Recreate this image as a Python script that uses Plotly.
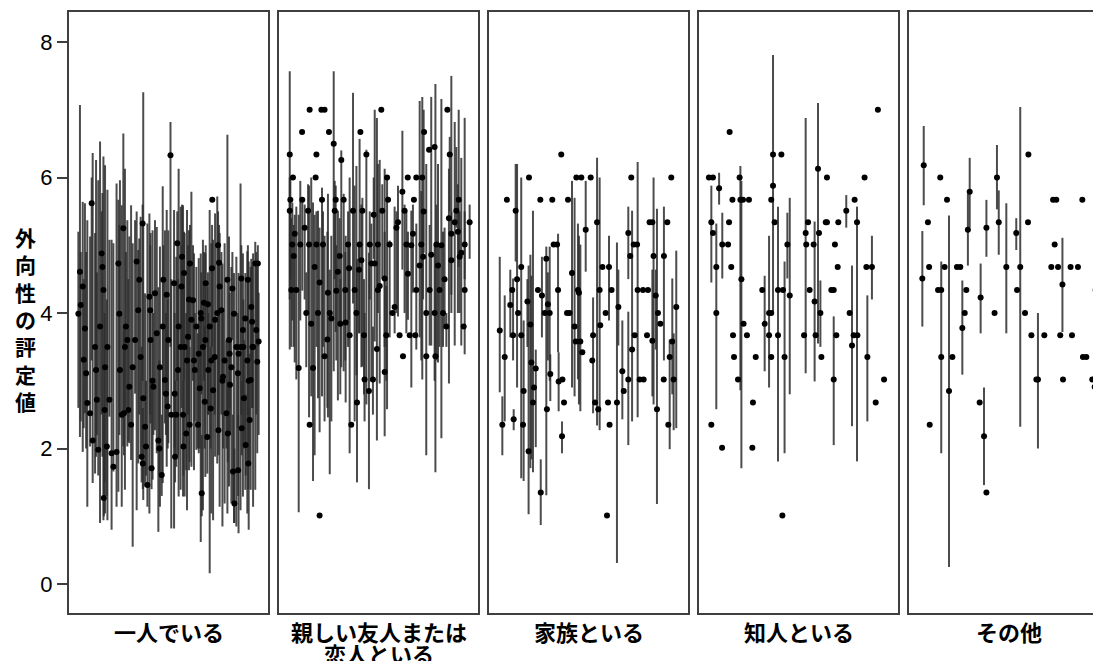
import numpy as np
import plotly.graph_objects as go

# ---------------- data (participant order position 0-100, mean, lower, upper) -------------
categories = ["一人でいる", "親しい友人または<br>恋人といる", "家族といる", "知人といる", "その他"]
y_ticks = [0, 2, 4, 6, 8]
y_title = "外向性の評定値"

p1 = [
(4.7,3.99,2.6,5.2),(5.5,4.61,2.17,7.07),(5.9,4.12,2.4,4.9),(6.9,4.39,1.95,5.64),(7.4,3.31,2.3,4.5),
(8.0,3.77,2.52,5.62),(8.6,3.11,2.0,4.9),(9.2,2.67,1.14,5.37),(10.6,2.52,2.03,5.13),(11.4,5.62,3.3,6.0),
(11.9,2.12,1.49,6.36),(13.1,3.5,1.63,5.18),(13.6,3.16,1.88,6.26),(14.0,2.72,2.2,4.6),(14.7,1.98,1.6,5.96),
(15.6,3.8,0.9,6.53),(16.4,4.88,2.5,5.5),(16.8,4.68,1.88,5.77),(17.3,4.34,0.94,6.31),(17.9,2.57,1.5,4.0),
(17.5,1.27,1.0,2.5),(18.1,3.2,1.04,6.18),(19.0,2.03,1.3,4.2),(19.3,3.5,0.94,5.82),(20.3,2.72,2.47,5.08),
(21.4,1.93,0.8,5.08),(22.3,1.73,1.66,5.03),(23.9,1.95,1.14,5.91),(24.8,4.73,1.36,5.67),(25.3,3.99,2.2,5.3),
(25.6,3.16,2.52,5.96),(26.5,2.5,1.14,5.59),(27.3,5.25,2.03,6.65),(27.6,2.52,1.9,3.8),(28.1,3.5,1.39,6.13),
(28.6,3.8,2.6,4.9),(29.3,3.6,2.03,5.37),(29.8,2.57,2.1,4.5),(30.3,2.91,2.08,5.13),(31.2,2.35,1.83,5.59),
(32.0,3.2,0.55,5.03),(33.2,3.6,2.81,5.37),(34.0,4.76,1.09,5.5),(34.8,4.04,1.78,4.93),(35.3,4.49,2.5,5.1),
(36.0,3.35,1.88,5.42),(36.5,1.88,1.5,3.5),(37.0,5.32,3.0,5.6),(37.1,1.78,1.4,2.6),(37.3,2.74,1.24,7.26),
(38.2,2.32,1.44,4.29),(38.7,2.03,1.6,3.0),(39.4,1.46,1.14,5.32),(40.4,4.24,1.04,5.47),(40.8,4.04,2.5,5.0),
(41.0,3.6,2.37,5.18),(41.5,1.71,1.4,3.0),(42.0,3.0,1.54,5.22),(42.4,2.91,2.2,4.0),(43.2,4.29,2.27,5.37),
(44.1,3.7,1.93,5.27),(44.9,2.12,0.77,4.38),(45.4,2.0,1.6,3.3),(45.7,3.2,1.14,4.98),(46.6,1.61,1.3,2.5),
(47.1,3.8,1.49,5.87),(47.4,4.49,2.8,5.0),(48.2,3.01,2.37,5.22),(48.7,2.81,2.2,4.0),(49.1,4.27,1.73,5.52),
(49.6,2.62,2.0,4.2),(49.9,3.6,2.08,5.22),(51.0,6.33,3.5,6.82),(51.4,2.5,0.82,4.5),(52.8,4.44,0.82,5.52),
(53.1,2.81,2.0,4.0),(53.3,1.88,1.5,3.0),(53.9,2.5,1.73,4.83),(54.4,5.03,3.0,5.5),(54.8,3.16,1.9,4.5),
(55.1,3.8,1.29,6.13),(56.1,3.5,1.39,5.57),(56.5,4.39,2.6,5.0),(56.8,4.83,3.5,5.6),(57.3,2.5,1.29,5.59),
(57.5,2.03,1.6,3.0),(57.8,4.59,3.0,5.2),(58.1,3.5,1.29,5.18),(58.9,2.22,1.68,4.0),(59.3,3.3,1.09,5.52),
(59.8,3.65,2.5,5.0),(60.3,4.2,1.68,5.22),(60.6,2.35,1.8,3.5),(60.8,4.73,3.6,5.3),(61.5,3.9,1.73,5.79),
(62.3,4.19,3.0,5.0),(62.8,3.3,1.68,4.88),(63.2,3.16,2.4,4.0),(64.0,3.8,1.98,4.68),(64.8,2.35,2.0,3.7),
(65.2,3.40,1.93,4.81),(65.7,2.89,2.0,4.0),(66.2,4.0,0.62,4.88),(66.5,3.92,2.8,4.6),(66.7,1.34,1.0,2.2),
(67.3,3.5,1.09,5.08),(67.8,4.15,3.0,4.9),(68.2,2.69,2.0,3.8),(68.5,3.6,1.58,4.88),(68.7,4.44,3.5,5.0),
(69.5,2.17,1.63,4.39),(69.8,4.13,2.5,4.6),(70.0,3.16,2.5,4.0),(70.7,3.8,0.16,5.52),(71.2,2.59,2.0,3.5),
(71.5,3.3,1.04,5.03),(71.9,4.66,3.5,5.3),(72.0,5.67,5.67,5.67),(72.4,2.86,0.94,5.08),(73.2,3.35,2.5,3.9),
(73.4,3.9,1.88,5.47),(74.5,4.0,1.78,5.72),(74.9,5.0,2.3,5.5),(75.1,2.27,1.9,3.0),(75.4,4.74,3.0,5.3),
(75.7,4.39,1.14,5.18),(76.6,4.04,2.5,4.9),(77.1,3.0,0.85,4.73),(77.4,3.06,2.0,4.0),(78.2,3.3,1.19,5.03),
(79.1,2.52,2.0,3.6),(79.6,4.49,1.04,6.63),(79.8,2.22,1.8,3.0),(80.4,3.6,1.44,5.13),(80.7,3.40,2.6,4.3),
(80.9,2.94,2.2,3.6),(81.6,3.2,1.19,4.68),(82.1,4.36,3.6,4.9),(82.4,1.66,1.2,2.5),(82.9,3.99,0.9,4.59),
(83.1,1.19,0.9,2.0),(84.1,3.5,0.85,4.83),(84.9,3.11,2.3,4.0),(85.0,1.68,1.3,2.5),(85.2,3.4,0.75,4.59),
(86.2,3.5,1.09,5.91),(86.6,4.51,2.5,5.0),(86.8,2.30,1.9,3.0),(87.4,3.75,1.29,4.88),(87.6,3.5,2.8,4.2),
(87.9,2.74,2.0,3.6),(88.6,3.92,1.39,4.59),(88.8,2.05,1.6,2.8),(89.6,3.3,1.04,4.91),(89.9,4.49,2.5,5.0),
(90.1,1.78,1.4,2.6),(90.3,3.0,0.80,4.76),(90.8,2.42,1.8,3.4),(91.3,3.01,1.39,4.68),(91.6,4.09,3.3,4.8),
(92.0,3.87,2.6,4.7),(92.2,3.5,2.6,4.2),(92.5,3.5,1.14,4.88),(93.6,4.73,1.39,5.05),(94.1,3.75,2.5,4.9),
(94.6,3.28,1.93,4.68),(94.9,4.73,3.5,5.0),(95.3,3.58,2.2,4.3),
]

p2 = [
(5.4,6.34,3.46,7.57),(5.7,5.67,4.5,6.0),(5.4,5.51,4.2,6.0),(6.2,4.34,3.5,5.4),(6.7,5.01,3.89,5.63),
(7.0,6.0,6.0,6.0),(7.4,4.84,3.5,5.3),(7.9,5.17,3.27,5.45),(8.7,4.34,3.02,5.57),(9.9,3.19,1.06,5.45),
(10.7,5.01,3.89,5.95),(11.6,6.67,6.67,6.67),(11.7,5.67,4.33,5.70),(12.9,5.26,4.2,5.6),(13.7,4.0,3.2,4.6),
(14.6,5.51,4.0,5.9),(15.1,5.01,2.46,5.88),(15.4,7.0,7.0,7.0),(15.4,2.35,2.35,2.35),(16.2,3.84,2.77,6.0),
(17.1,3.19,1.52,5.63),(17.9,4.68,1.90,5.45),(18.4,6.0,6.0,6.0),(18.8,6.34,6.34,6.34),(18.8,5.01,3.5,5.5),
(19.6,4.0,2.74,5.51),(20.4,1.01,1.01,1.01),(20.4,4.45,2.24,5.26),(21.3,7.0,7.0,7.0),(21.6,5.67,2.77,5.85),
(22.1,5.01,3.5,5.5),(22.9,7.0,7.0,7.0),(22.9,3.36,2.4,5.14),(24.3,3.61,2.6,5.2),(24.6,4.3,2.46,5.76),
(25.1,6.67,6.67,6.67),(25.5,4.0,1.62,4.64),(26.3,3.92,2.4,5.14),(27.5,6.5,3.14,7.57),(28.0,5.51,4.5,5.95),
(28.5,5.67,3.72,5.88),(28.8,4.33,3.3,5.0),(29.6,4.61,2.71,5.51),(30.5,4.84,3.8,5.4),(30.8,3.84,2.8,4.5),
(31.3,6.26,3.2,6.4),(32.5,5.67,3.14,5.76),(33.3,4.34,3.3,4.9),(33.5,3.86,2.68,5.14),(34.7,5.01,3.5,5.5),
(35.2,4.66,3.9,5.0),(35.5,3.67,1.93,6.0),(36.3,2.35,2.35,2.35),(37.2,5.51,4.14,7.25),(38.0,4.34,2.4,5.88),
(38.9,4.0,3.08,6.17),(39.2,2.68,1.5,4.8),(40.2,4.64,3.7,5.0),(40.5,5.01,3.7,6.57),(40.9,6.67,6.67,6.67),
(41.4,4.78,3.2,5.6),(41.9,5.51,3.21,5.70),(42.7,3.67,2.8,4.5),(43.0,3.02,2.4,4.0),(43.9,6.34,2.65,6.41),
(45.2,2.85,1.40,4.89),(45.6,5.01,4.2,5.5),(46.4,4.73,2.99,5.32),(47.2,3.02,2.5,3.8),(47.6,5.45,4.8,6.0),
(48.1,4.73,3.58,7.0),(49.2,3.47,2.12,6.88),(49.7,5.01,4.0,6.20),(49.7,4.34,4.34,4.34),(50.6,4.4,2.96,6.26),
(51.4,7.0,7.0,7.0),(51.9,5.51,4.5,5.9),(53.1,3.13,2.18,6.13),(53.1,4.51,3.5,5.2),(53.9,3.67,3.0,4.4),
(54.3,6.0,2.58,6.0),(54.8,5.67,5.67,5.67),(55.6,5.01,3.64,5.07),(57.0,4.0,4.0,4.0),(58.1,4.09,3.7,5.57),
(59.0,5.26,4.0,5.5),(59.8,5.34,3.95,5.88),(60.6,3.67,3.67,3.67),(62.0,5.79,4.64,6.69),(62.3,3.36,3.36,3.36),
(63.1,5.51,4.0,5.6),(64.0,5.01,3.7,5.51),(64.7,6.0,6.0,6.0),(64.8,4.58,3.9,5.2),(65.7,3.67,3.67,3.67),
(66.5,5.0,2.9,5.51),(67.3,5.17,4.3,5.6),(67.8,5.67,5.67,5.67),(68.5,3.67,3.67,3.67),(69.0,4.34,3.46,5.32),
(69.0,6.0,6.0,6.0),(70.7,4.7,3.64,7.13),(71.5,5.01,3.3,5.8),(72.0,6.0,3.02,7.19),(72.4,4.83,4.2,5.5),
(72.7,5.5,4.89,7.0),(72.9,6.67,6.67,6.67),(74.0,3.36,1.90,6.20),(74.0,4.0,4.0,4.0),(75.4,6.41,6.41,6.41),
(75.7,4.34,3.52,5.3),(76.5,4.86,3.52,7.19),(78.2,6.45,6.45,6.45),(78.2,4.0,3.0,5.0),(78.6,3.36,1.65,7.38),
(79.1,5.01,3.3,5.6),(79.9,4.7,3.27,6.2),(80.7,4.34,3.5,5.0),(81.6,5.0,2.15,7.16),(82.4,4.0,3.5,5.2),
(83.2,4.5,3.77,5.26),(84.1,3.8,3.5,4.0),(84.6,7.0,7.0,7.0),(85.4,5.4,2.96,6.13),(85.8,6.34,5.5,6.6),
(86.6,4.78,4.27,7.50),(86.6,5.17,4.0,5.5),(88.3,5.34,3.52,6.82),(89.1,5.51,5.26,6.45),(89.9,5.2,4.0,5.9),
(90.3,5.67,4.68,7.0),(90.8,4.83,4.0,5.5),(91.6,4.89,3.52,6.29),(92.8,3.8,3.8,3.8),(93.3,4.34,3.39,6.88),
(93.3,5.01,4.5,5.5),(95.8,5.34,4.8,5.6),
]

p3 = [
(5.4,3.74,2.83,4.83),(6.7,2.35,1.9,2.77),(7.9,3.35,2.40,4.26),(9.0,5.67,5.67,5.67),(10.7,4.12,3.64,4.64),
(11.7,4.34,4.34,4.34),(12.1,3.67,3.3,4.51),(12.4,2.43,2.27,2.58),(13.4,5.51,4.76,6.2),(14.1,4.5,2.9,6.2),
(14.6,4.0,4.0,4.0),(16.2,4.68,1.56,6.0),(16.2,3.67,3.67,3.67),(17.1,2.35,2.35,2.35),(17.4,2.85,1.52,3.89),
(19.3,4.17,3.5,4.5),(20.1,6.0,6.0,6.0),(19.9,1.96,1.03,4.7),(20.8,3.83,1.71,4.86),(21.3,3.27,1.84,4.55),
(22.1,2.68,1.65,5.51),(22.6,2.9,2.9,2.9),(23.5,3.18,2.02,3.46),(24.6,4.34,4.34,4.34),(25.8,5.67,5.67,5.67),
(26.0,1.35,0.87,1.84),(26.6,4.26,3.64,4.83),(28.0,4.0,4.0,4.0),(28.8,4.8,1.31,4.98),(29.1,2.58,2.58,2.58),
(29.6,4.13,3.3,4.6),(30.5,4.0,3.0,4.98),(30.8,3.1,2.7,3.39),(31.8,5.67,5.67,5.67),(32.5,5.01,5.01,5.01),
(34.2,5.01,5.01,5.01),(34.7,4.34,3.42,5.17),(35.0,2.99,2.55,3.42),(36.3,6.34,6.34,6.34),(36.9,3.02,3.02,3.02),
(36.7,2.18,1.93,2.40),(37.7,2.68,2.68,2.68),(39.2,4.0,4.0,4.0),(40.5,4.0,4.0,4.0),(39.7,5.67,5.67,5.67),
(41.7,4.59,2.90,5.95),(43.0,3.8,2.77,5.70),(43.9,6.0,6.0,6.0),(46.4,6.0,6.0,6.0),(43.6,3.58,3.58,3.58),
(44.7,4.34,3.02,5.32),(45.2,4.3,2.65,5.14),(45.9,3.58,2.55,5.01),(46.9,3.42,3.42,3.42),(48.6,5.23,4.61,5.95),
(51.1,6.0,6.0,6.0),(52.3,3.67,2.52,4.23),(51.9,3.3,3.3,3.3),(53.3,2.68,2.68,2.68),(54.3,5.34,2.34,6.29),
(54.9,2.58,2.58,2.58),(55.6,4.34,2.27,6.0),(55.9,3.82,3.82,3.82),(57.0,4.68,4.68,4.68),(58.6,4.0,4.0,4.0),
(59.3,1.01,1.01,1.01),(59.8,2.68,2.68,2.68),(60.3,4.68,3.89,5.14),(60.6,2.35,2.35,2.35),(61.6,4.34,4.34,4.34),
(64.3,2.68,0.31,5.04),(65.0,4.09,3.52,4.64),(67.0,3.14,2.43,3.89),(67.7,2.85,2.85,2.85),(70.0,3.02,2.05,4.02),
(70.0,5.18,4.5,5.57),(71.0,4.84,4.84,4.84),(71.5,6.0,6.0,6.0),(71.9,3.46,2.40,5.51),(72.7,5.01,5.01,5.01),
(74.4,5.01,5.01,5.01),(73.2,3.67,3.67,3.67),(74.7,4.34,2.46,6.23),(75.7,3.02,3.02,3.02),(77.7,3.02,3.02,3.02),
(77.4,4.34,4.34,4.34),(79.9,4.34,4.34,4.34),(79.4,3.67,3.67,3.67),(80.7,5.34,5.34,5.34),(82.1,5.34,5.34,5.34),
(82.1,3.59,2.77,4.64),(82.7,4.84,2.65,6.0),(83.8,4.26,3.46,4.64),(84.4,2.58,1.18,5.54),(84.9,4.0,4.0,4.0),
(86.1,3.84,3.84,3.84),(87.8,3.02,3.02,3.02),(87.9,4.84,3.3,5.57),(89.6,5.34,5.34,5.34),(90.1,2.35,2.35,2.35),
(90.8,3.35,1.99,3.61),(91.6,6.0,6.0,6.0),(92.1,3.58,2.8,4.51),(92.8,3.02,2.27,3.70),(94.1,4.09,2.3,4.92),
]

p4 = [
(5.0,6.0,6.0,6.0),(7.0,6.0,6.0,6.0),(6.2,5.34,4.45,5.88),(7.0,5.18,5.18,5.18),(8.7,4.68,2.58,5.32),
(8.7,4.0,4.0,4.0),(10.1,5.84,5.6,6.07),(6.2,2.35,2.35,2.35),(11.7,5.01,4.51,5.48),(14.6,5.01,5.01,5.01),
(11.6,2.01,2.01,2.01),(15.4,6.67,6.67,6.67),(15.1,5.34,5.34,5.34),(16.2,4.68,4.68,4.68),(16.8,5.67,5.67,5.67),
(17.1,3.67,3.67,3.67),(17.6,3.35,3.35,3.35),(19.6,3.02,3.02,3.02),(20.4,6.0,6.0,6.0),(20.8,5.67,2.86,6.17),
(22.1,5.67,5.67,5.67),(21.3,4.5,1.71,5.95),(22.4,3.84,3.84,3.84),(24.1,3.67,3.67,3.67),(25.1,5.67,5.67,5.67),
(27.1,2.68,2.68,2.68),(26.8,2.01,2.01,2.01),(28.5,3.35,3.35,3.35),(31.8,4.34,4.34,4.34),(33.0,3.84,3.14,4.55),
(35.2,4.0,2.9,5.14),(36.3,4.0,4.0,4.0),(35.2,3.67,3.67,3.67),(36.3,5.67,5.67,5.67),(37.2,6.34,4.02,7.81),
(37.2,5.88,5.88,5.88),(38.0,5.34,5.34,5.34),(36.3,3.35,3.35,3.35),(39.7,4.34,1.81,5.57),(39.7,3.67,3.67,3.67),
(41.4,6.34,6.34,6.34),(42.2,4.34,4.34,4.34),(41.9,1.01,1.01,1.01),(43.0,3.35,1.93,4.76),(44.4,5.01,4.51,5.48),
(45.6,4.26,2.80,5.70),(52.8,3.67,3.67,3.67),(53.6,5.18,3.11,6.88),(53.9,5.01,5.01,5.01),(54.8,5.34,5.34,5.34),
(55.6,4.34,4.34,4.34),(57.6,5.01,5.01,5.01),(58.1,4.17,2.99,5.35),(58.6,3.67,3.67,3.67),(59.8,6.13,3.55,7.10),
(60.3,5.18,5.18,5.18),(61.0,4.0,3.5,4.48),(61.5,3.35,3.35,3.35),(64.3,6.0,6.0,6.0),(63.7,5.34,5.34,5.34),
(64.3,5.34,5.34,5.34),(66.5,4.34,4.34,4.34),(67.7,4.34,4.34,4.34),(67.7,3.02,2.05,3.95),(68.3,5.01,5.01,5.01),
(69.0,3.67,3.67,3.67),(69.7,4.68,4.68,4.68),(70.0,5.34,5.34,5.34),(74.0,5.51,5.26,5.74),(75.7,4.0,4.0,4.0),
(76.9,3.52,2.33,4.70),(78.2,5.67,5.67,5.67),(77.7,3.67,3.67,3.67),(79.6,3.67,3.67,3.67),(79.4,5.34,1.81,5.57),
(83.2,6.0,6.0,6.0),(84.1,4.68,4.68,4.68),(84.6,3.35,2.40,4.26),(86.9,4.68,4.20,5.14),(88.8,2.68,2.68,2.68),
(89.9,7.0,7.0,7.0),(93.0,3.02,3.02,3.02),
]

p5 = [
(7.4,6.18,5.59,6.76),(6.7,4.51,3.8,5.21),(9.5,5.34,5.34,5.34),(10.1,4.68,4.68,4.68),(10.4,2.35,2.35,2.35),
(14.6,4.34,4.34,4.34),(16.2,4.34,1.93,4.76),(15.7,6.0,6.0,6.0),(16.2,3.35,3.35,3.35),(17.9,4.68,4.68,4.68),
(19.1,5.67,5.67,5.67),(20.1,2.85,0.25,5.44),(21.8,3.35,3.35,3.35),(24.1,4.68,4.68,4.68),(25.8,4.68,4.68,4.68),
(26.8,3.78,3.09,4.48),(28.0,4.0,4.0,4.0),(28.8,4.34,4.34,4.34),(29.6,5.23,4.70,5.76),(30.5,5.79,5.26,6.29),
(35.5,2.68,2.68,2.68),(36.0,4.23,3.70,4.73),(37.7,2.18,1.46,2.90),(38.9,1.35,1.35,1.35),(38.9,5.26,4.83,5.67),
(43.0,4.0,4.0,4.0),(44.2,6.0,5.53,6.48),(45.1,5.34,4.86,5.81),(48.9,4.68,3.70,5.62),(53.9,5.18,4.93,5.40),
(54.3,4.34,4.34,4.34),(55.9,4.68,2.32,7.04),(58.3,4.0,4.0,4.0),(60.0,6.34,6.34,6.34),(59.8,5.34,5.34,5.34),
(61.5,3.67,3.67,3.67),(64.0,3.02,3.02,3.02),(64.8,3.02,2.0,4.0),(68.0,3.67,3.67,3.67),(72.4,5.67,5.67,5.67),
(74.0,5.67,5.67,5.67),(73.2,5.01,5.01,5.01),(71.5,4.68,4.68,4.68),(74.9,4.68,4.68,4.68),(77.1,4.42,3.72,5.11),
(76.0,3.67,3.67,3.67),(77.4,3.02,3.02,3.02),(81.2,4.68,4.68,4.68),(84.9,4.68,4.68,4.68),(81.9,3.67,3.67,3.67),
(87.1,5.67,5.67,5.67),(87.4,3.35,3.35,3.35),(89.1,3.35,3.35,3.35),(92.1,3.02,3.02,3.02),(93.3,2.91,1.99,3.86),
(93.8,4.34,4.34,4.34),(95.3,4.68,4.68,4.68),
]

panels = [p1, p2, p3, p4, p5]

# ---------------- layout geometry (pixels) ----------------
# the page body adds an 8px margin, so the figure is 8px smaller and placed at (8, 8)
OFF = 8
W, H = 1101 - OFF, 661 - OFF
ML, MT, MB = 69 - OFF, 12 - OFF, 48
PW = W - ML            # plot area width (1032)
PH = H - MT - MB       # plot area height (601)
panel_w, pitch = 199, 210
y_range = [-0.428, 8.443]

line_col = "#3f3f3f"
err_col = "rgba(45,45,45,0.85)"

fig = go.Figure()
layout = dict(
    width=W, height=H,
    margin=dict(l=ML, r=0, t=MT, b=MB, pad=0),
    paper_bgcolor="white", plot_bgcolor="white",
    showlegend=False,
)

for i, data in enumerate(panels):
    k = i + 1
    arr = np.array(data, dtype=float)
    pos, m, lo, hi = arr[:, 0], arr[:, 1], arr[:, 2], arr[:, 3]
    fig.add_trace(go.Scatter(
        x=pos, y=m, mode="markers",
        marker=dict(color="black", size=6, line=dict(width=0)),
        error_y=dict(type="data", symmetric=False, array=hi - m, arrayminus=m - lo,
                     thickness=2, width=0, color=err_col),
        xaxis=f"x{k}", yaxis=f"y{k}", hoverinfo="skip",
    ))
    left = pitch * i
    right = min(left + panel_w, PW)
    x_hi = 100.0 * (right - left) / panel_w
    xa = dict(domain=[left / PW, right / PW], range=[0, x_hi], anchor=f"y{k}",
              showticklabels=False, ticks="", showgrid=False, zeroline=False,
              showline=True, linecolor=line_col, linewidth=2, mirror=True)
    ya = dict(domain=[0, 1], range=y_range, anchor=f"x{k}", showgrid=False, zeroline=False,
              showline=True, linecolor=line_col, linewidth=2, mirror=(k != 5))
    if k == 1:
        ya.update(tickvals=y_ticks, ticks="outside", ticklen=10, tickwidth=2, tickcolor=line_col,
                  tickfont=dict(family="Liberation Sans, Arial", size=22, color="black"))
    else:
        ya.update(showticklabels=False, ticks="")
    layout[f"xaxis{k}" if k > 1 else "xaxis"] = xa
    layout[f"yaxis{k}" if k > 1 else "yaxis"] = ya

fig.update_layout(**layout)

def py(px):
    # page pixel -> paper y
    return (661 - MB - px) / PH

def px_x(px):
    # page pixel -> paper x
    return (px - 69) / PW

cjk = "Noto Sans CJK JP"
# y-axis title, characters stacked vertically (one text block)
fig.add_annotation(text="<b>" + "<br>".join(y_title) + "</b>", xref="paper", yref="paper",
                   x=px_x(25), y=py(319), xanchor="center", yanchor="middle", align="center",
                   showarrow=False, font=dict(family=cjk, size=21, color="black"))

# category labels
for i, cat in enumerate(categories):
    center = 69 + pitch * i + panel_w / 2
    lines = cat.split("<br>")
    for j, ln in enumerate(lines):
        fig.add_annotation(text=f"<b>{ln}</b>", xref="paper", yref="paper",
                           x=px_x(center), y=py(630.5 + 22 * j), xanchor="center", yanchor="middle",
                           showarrow=False, font=dict(family=cjk, size=22, color="black"))

fig.write_html("out.html")
